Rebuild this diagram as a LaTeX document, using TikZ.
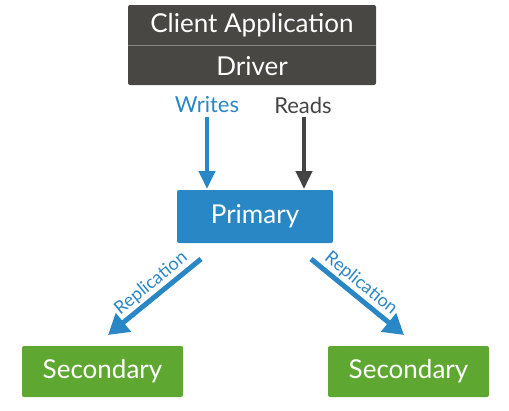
\documentclass[tikz,border=0pt]{standalone}
\usepackage{fontspec}
\setmainfont{Lato}
\usetikzlibrary{arrows.meta}
\definecolor{darkbox}{HTML}{494744}
\definecolor{divline}{HTML}{8A8885}
\definecolor{mblue}{HTML}{2A87C6}
\definecolor{mgreen}{HTML}{5EA832}
\definecolor{rdgray}{HTML}{444444}
\tikzset{
  boxfill/.style={rounded corners=2pt, draw=none},
  bigtxt/.style={text=white, font=\fontsize{26}{30}\selectfont},
  fatarrow/.style={line width=4pt, -{Triangle[width=16pt,length=18pt]}},
  reparrow/.style={line width=5pt, -{Triangle[width=23pt,length=20pt]}},
  lbl/.style={font=\fontsize{22}{26}\selectfont},
  replbl/.style={font=\fontsize{18}{20}\selectfont, text=mblue, inner sep=2pt},
}
\begin{document}
\begin{tikzpicture}[x=1pt,y=1pt]
\useasboundingbox (0,0) rectangle (509,-410);
% top box
\fill[darkbox, rounded corners=2pt] (128,-5) rectangle (376,-85);
\draw[divline, line width=1pt] (128,-45) -- (376,-45);
\node[bigtxt] (client) at (252,-25) {Client Application};
\node[bigtxt] (driver) at (252,-66) {Driver};
% labels
\node[lbl, text=mblue] (writes) at (207,-105) {Writes};
\node[lbl, text=rdgray] (reads) at (303,-105) {Reads};
% primary
\node[boxfill, fill=mblue, minimum width=156pt, minimum height=53pt, bigtxt] (primary) at (255,-216.5) {Primary};
% secondaries
\node[boxfill, fill=mgreen, minimum width=161pt, minimum height=51pt, bigtxt] (sec1) at (102.5,-371.5) {Secondary};
\node[boxfill, fill=mgreen, minimum width=161pt, minimum height=51pt, bigtxt] (sec2) at (408.5,-371.5) {Secondary};
% coordinates
\coordinate (wtop) at (207,-117);
\coordinate (wbot) at (207,-189);
\coordinate (rtop) at (304,-117);
\coordinate (rbot) at (304,-189);
\coordinate (l1) at (201,-259);
\coordinate (l2) at (108,-335);
\coordinate (r1) at (311,-259);
\coordinate (r2) at (404,-335);
\draw[fatarrow, mblue] (wtop) -- (wbot);
\draw[fatarrow, rdgray] (rtop) -- (rbot);
\draw[reparrow, mblue] (l1) -- node[replbl, sloped, above, pos=0.45] {Replication} (l2);
\draw[reparrow, mblue] (r1) -- node[replbl, sloped, above, pos=0.45] {Replication} (r2);
\end{tikzpicture}
\end{document}
